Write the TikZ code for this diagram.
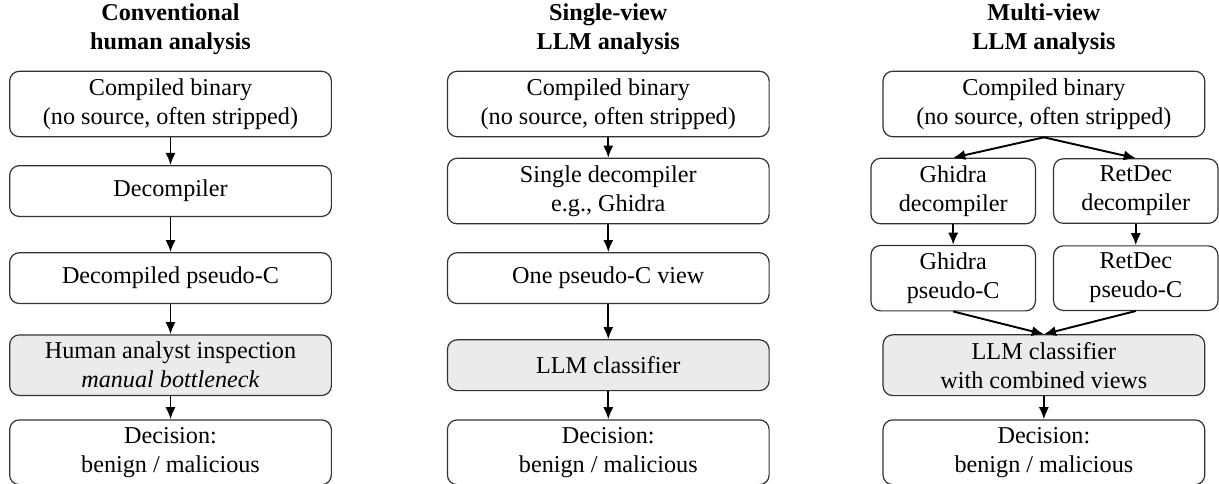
\documentclass[tikz,border=0pt]{standalone}
\usepackage{fontspec}
\setmainfont{Liberation Serif}
\usetikzlibrary{arrows.meta}

\begin{document}
\begin{tikzpicture}[x=1pt,y=1pt,
  box/.style={draw=black!80, rounded corners=4pt, align=center, minimum width=133pt, minimum height=21pt, inner sep=3pt, line width=0.5pt},
  subbox/.style={box, minimum width=68pt},
  shaded/.style={fill=black!8},
  flow/.style={-{Latex[length=5pt,width=4.2pt]}, line width=0.8pt},
  coltitle/.style={align=center, font=\bfseries}]

\useasboundingbox (0,0) rectangle (504,-200);

\node [coltitle] (ta) at (70.5,-12) {Conventional\\human analysis};
\node [coltitle] (tb) at (251.5,-12) {Single-view\\LLM analysis};
\node [coltitle] (tc) at (431.6,-12) {Multi-view\\LLM analysis};

\node [box] (a1) at (70.5,-43) {Compiled binary\\(no source, often stripped)};
\node [box] (a2) at (70.5,-79) {Decompiler};
\node [box] (a3) at (70.5,-115) {Decompiled pseudo-C};
\node [box, shaded] (a4) at (70.5,-151) {Human analyst inspection\\\textit{manual bottleneck}};
\node [box] (a5) at (70.5,-187) {Decision:\\benign / malicious};

\draw[flow] (a1) -- (a2);
\draw[flow] (a2) -- (a3);
\draw[flow] (a3) -- (a4);
\draw[flow] (a4) -- (a5);

\node [box] (b1) at (251.5,-43) {Compiled binary\\(no source, often stripped)};
\node [box] (b2) at (251.5,-79) {Single decompiler\\e.g., Ghidra};
\node [box] (b3) at (251.5,-115) {One pseudo-C view};
\node [box, shaded] (b4) at (251.5,-151) {LLM classifier};
\node [box] (b5) at (251.5,-187) {Decision:\\benign / malicious};

\draw[flow] (b1) -- (b2);
\draw[flow] (b2) -- (b3);
\draw[flow] (b3) -- (b4);
\draw[flow] (b4) -- (b5);

\node [box] (c1) at (431.6,-43) {Compiled binary\\(no source, often stripped)};
\node [subbox] (c2g) at (394.1,-79) {Ghidra\\decompiler};
\node [subbox] (c2r) at (469.6,-79) {RetDec\\decompiler};
\node [subbox] (c3g) at (394.1,-115) {Ghidra\\pseudo-C};
\node [subbox] (c3r) at (469.6,-115) {RetDec\\pseudo-C};
\node [box, shaded] (c4) at (431.6,-151) {LLM classifier\\with combined views};
\node [box] (c5) at (431.6,-187) {Decision:\\benign / malicious};

\draw[flow] (c1.south) -- (c2g.north);
\draw[flow] (c1.south) -- (c2r.north);
\draw[flow] (c2g) -- (c3g);
\draw[flow] (c2r) -- (c3r);
\draw[flow] (c3g.south) -- (c4.north);
\draw[flow] (c3r.south) -- (c4.north);
\draw[flow] (c4) -- (c5);

\end{tikzpicture}
\end{document}
